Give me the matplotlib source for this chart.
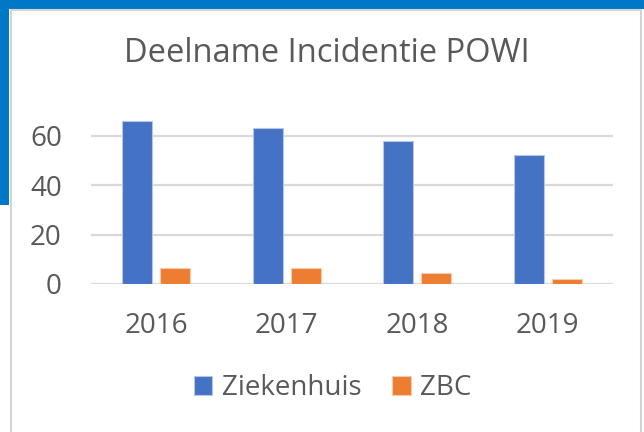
import matplotlib
matplotlib.use("Agg")
import matplotlib.pyplot as plt
import numpy as np
from matplotlib.patches import Rectangle

# Data
years = ["2016", "2017", "2018", "2019"]
ziekenhuis = [66, 63, 58, 52]
zbc = [6.3, 6.3, 4.5, 2.2]

BLUE = "#4472C4"
ORANGE = "#ED7D31"
TEXT = "#595959"
GRID = "#D9D9D9"

plt.rcParams["font.family"] = ["Open Sans", "DejaVu Sans"]

W, H = 644, 432
fig = plt.figure(figsize=(W / 100, H / 100), dpi=100)

# Frame around the chart (screenshot chrome), kept behind the axes
def px_rect(x0, y0, x1, y1, **kw):
    fig.patches.append(Rectangle((x0 / W, 1 - y1 / H), (x1 - x0) / W, (y1 - y0) / H,
                                 transform=fig.transFigure, zorder=-5, **kw))

px_rect(0, 0, W, 9, facecolor="#0078C8", edgecolor="none")
px_rect(0, 0, 9, 205, facecolor="#0078C8", edgecolor="none")
px_rect(11, 10, 641, 433, facecolor="white", edgecolor="#D4D4D4", linewidth=1.5)

ax = fig.add_axes([91 / W, 148 / H, (613 - 91) / W, (70 * 2.472) / H])
ax.set_facecolor("none")

x = np.arange(len(years))
bw = 0.23
gap = 0.06
ax.bar(x - (bw + gap) / 2, ziekenhuis, bw, color=BLUE, edgecolor="#B4C7E7",
       linewidth=0.8, label="Ziekenhuis", zorder=3)
ax.bar(x + (bw + gap) / 2, zbc, bw, color=ORANGE, edgecolor="#F8CBAD",
       linewidth=0.8, label="ZBC", zorder=3)

ax.set_xlim(-0.5, len(years) - 0.5)
ax.set_ylim(0, 70)
ax.set_yticks([0, 20, 40, 60])
ax.set_xticks(x)
ax.set_xticklabels(years)
ax.yaxis.grid(True, color=GRID, linewidth=1.6, zorder=0)
ax.set_axisbelow(True)
for s in ax.spines.values():
    s.set_visible(False)
ax.tick_params(axis="both", length=0, labelsize=20, labelcolor=TEXT)
ax.tick_params(axis="y", pad=21)
ax.tick_params(axis="x", pad=20)

fig.text(0.507, 1 - 54 / H, "Deelname Incidentie POWI", ha="center", va="center",
         fontsize=23.5, color=TEXT)

leg = fig.legend(loc="center", bbox_to_anchor=(0.517, 1 - 388 / H), ncol=2,
                 frameon=False, fontsize=20, handlelength=0.66, handleheight=0.66,
                 columnspacing=1.1, handletextpad=0.35)
for t in leg.get_texts():
    t.set_color(TEXT)

fig.savefig("out.png", dpi=100)
